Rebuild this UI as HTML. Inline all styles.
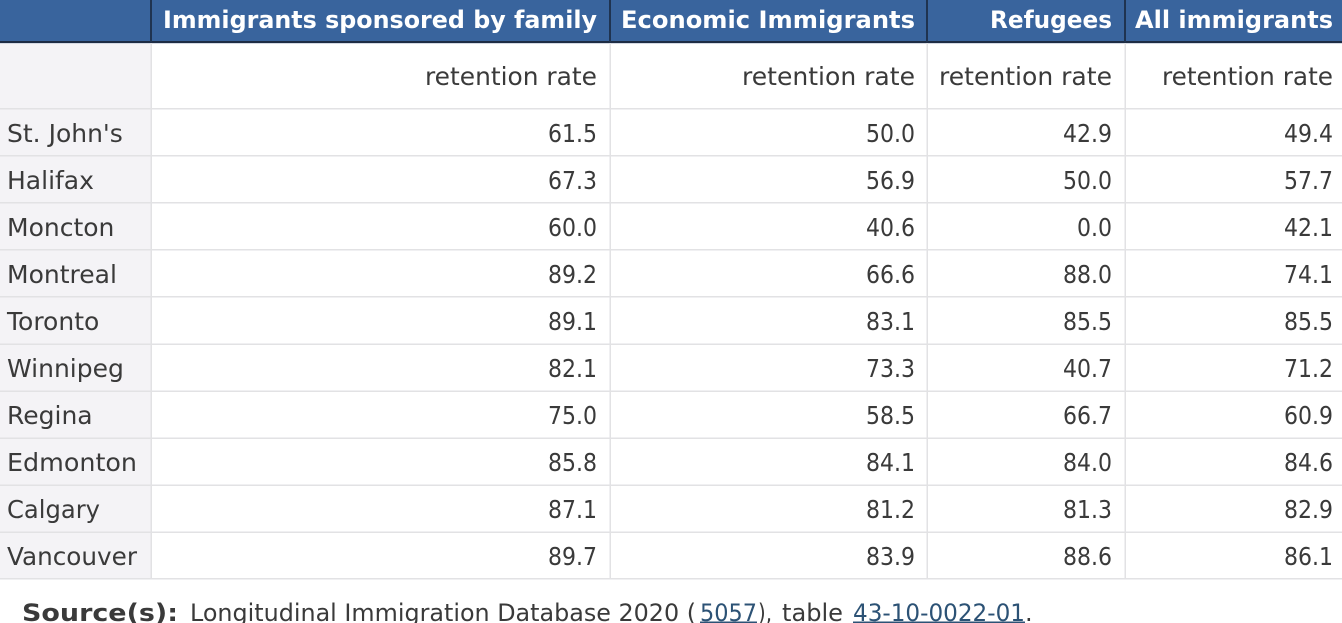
<!DOCTYPE html>
<html>
<head>
<meta charset="utf-8">
<style>
html,body{margin:0;padding:0;background:#fff;}
svg{display:block;}
text{font-family:"DejaVu Sans","Liberation Sans",sans-serif;}
.h{font-weight:bold;fill:#ffffff;font-size:24px;}
.t{fill:#3a3a3a;font-size:25px;}
.n{fill:#3a3a3a;font-size:25px;text-anchor:end;}
.l{fill:#2c5275;font-size:24px;}
.s{fill:#3a3a3a;font-size:24px;}
</style>
</head>
<body>
<svg width="1342" height="623" viewBox="0 0 1342 623" xmlns="http://www.w3.org/2000/svg">
  <rect x="0" y="0" width="1342" height="623" fill="#ffffff"/>
  <!-- header -->
  <rect x="0" y="0" width="1342" height="41" fill="#39649d"/>
  <rect x="0" y="41" width="1342" height="2" fill="#1d2c44"/>
  <rect x="0" y="43" width="1342" height="1" fill="#d4d9e3"/>
  <g fill="#1f3350">
    <rect x="150" y="0" width="2" height="42"/>
    <rect x="609" y="0" width="2" height="42"/>
    <rect x="926" y="0" width="2" height="42"/>
    <rect x="1124" y="0" width="2" height="42"/>
  </g>
  <!-- first column bg -->
  <rect x="0" y="44" width="151" height="535" fill="#f4f3f6"/>
  <!-- horizontal lines -->
  <g fill="#e2e2e4">
    <rect x="0" y="108" width="1342" height="1.5"/>
    <rect x="0" y="155" width="1342" height="1.5"/>
    <rect x="0" y="202" width="1342" height="1.5"/>
    <rect x="0" y="249" width="1342" height="1.5"/>
    <rect x="0" y="296" width="1342" height="1.5"/>
    <rect x="0" y="343.5" width="1342" height="1.5"/>
    <rect x="0" y="390.5" width="1342" height="1.5"/>
    <rect x="0" y="437.5" width="1342" height="1.5"/>
    <rect x="0" y="484.5" width="1342" height="1.5"/>
    <rect x="0" y="531.5" width="1342" height="1.5"/>
    <rect x="0" y="578" width="1342" height="1.5"/>
  </g>
  <!-- vertical lines -->
  <g fill="#e2e2e4">
    <rect x="150.5" y="43" width="1.5" height="536"/>
    <rect x="609.5" y="43" width="1.5" height="536"/>
    <rect x="926.5" y="43" width="1.5" height="536"/>
    <rect x="1124.5" y="43" width="1.5" height="536"/>
  </g>
  <!-- header text -->
  <text class="h" x="163" y="28" textLength="434" lengthAdjust="spacingAndGlyphs">Immigrants sponsored by family</text>
  <text class="h" x="621" y="28" textLength="294" lengthAdjust="spacingAndGlyphs">Economic Immigrants</text>
  <text class="h" x="990" y="28" textLength="122" lengthAdjust="spacingAndGlyphs">Refugees</text>
  <text class="h" x="1135" y="28" textLength="198" lengthAdjust="spacingAndGlyphs">All immigrants</text>
  <!-- subheader -->
  <text class="t" x="425" y="85" textLength="172" lengthAdjust="spacingAndGlyphs">retention rate</text>
  <text class="t" x="742" y="85" textLength="173" lengthAdjust="spacingAndGlyphs">retention rate</text>
  <text class="t" x="939" y="85" textLength="173" lengthAdjust="spacingAndGlyphs">retention rate</text>
  <text class="t" x="1162" y="85" textLength="171" lengthAdjust="spacingAndGlyphs">retention rate</text>
  <!-- rows -->
  <g>
    <text class="t" x="7" y="142">St. John's</text>
    <text class="t" x="7" y="189">Halifax</text>
    <text class="t" x="7" y="236">Moncton</text>
    <text class="t" x="7" y="283">Montreal</text>
    <text class="t" x="7" y="330">Toronto</text>
    <text class="t" x="7" y="377">Winnipeg</text>
    <text class="t" x="7" y="424">Regina</text>
    <text class="t" x="7" y="471" textLength="130" lengthAdjust="spacingAndGlyphs">Edmonton</text>
    <text class="t" x="7" y="518" textLength="93" lengthAdjust="spacingAndGlyphs">Calgary</text>
    <text class="t" x="7" y="565" textLength="130" lengthAdjust="spacingAndGlyphs">Vancouver</text>
  </g>
  <!-- col 2 -->
  <g>
    <text class="n" x="597" y="142" textLength="49" lengthAdjust="spacingAndGlyphs">61.5</text>
    <text class="n" x="597" y="189" textLength="49" lengthAdjust="spacingAndGlyphs">67.3</text>
    <text class="n" x="597" y="236" textLength="49" lengthAdjust="spacingAndGlyphs">60.0</text>
    <text class="n" x="597" y="283" textLength="49" lengthAdjust="spacingAndGlyphs">89.2</text>
    <text class="n" x="597" y="330" textLength="49" lengthAdjust="spacingAndGlyphs">89.1</text>
    <text class="n" x="597" y="377" textLength="49" lengthAdjust="spacingAndGlyphs">82.1</text>
    <text class="n" x="597" y="424" textLength="49" lengthAdjust="spacingAndGlyphs">75.0</text>
    <text class="n" x="597" y="471" textLength="49" lengthAdjust="spacingAndGlyphs">85.8</text>
    <text class="n" x="597" y="518" textLength="49" lengthAdjust="spacingAndGlyphs">87.1</text>
    <text class="n" x="597" y="565" textLength="49" lengthAdjust="spacingAndGlyphs">89.7</text>
  </g>
  <!-- col 3 -->
  <g>
    <text class="n" x="915" y="142" textLength="49" lengthAdjust="spacingAndGlyphs">50.0</text>
    <text class="n" x="915" y="189" textLength="49" lengthAdjust="spacingAndGlyphs">56.9</text>
    <text class="n" x="915" y="236" textLength="49" lengthAdjust="spacingAndGlyphs">40.6</text>
    <text class="n" x="915" y="283" textLength="49" lengthAdjust="spacingAndGlyphs">66.6</text>
    <text class="n" x="915" y="330" textLength="49" lengthAdjust="spacingAndGlyphs">83.1</text>
    <text class="n" x="915" y="377" textLength="49" lengthAdjust="spacingAndGlyphs">73.3</text>
    <text class="n" x="915" y="424" textLength="49" lengthAdjust="spacingAndGlyphs">58.5</text>
    <text class="n" x="915" y="471" textLength="49" lengthAdjust="spacingAndGlyphs">84.1</text>
    <text class="n" x="915" y="518" textLength="49" lengthAdjust="spacingAndGlyphs">81.2</text>
    <text class="n" x="915" y="565" textLength="49" lengthAdjust="spacingAndGlyphs">83.9</text>
  </g>
  <!-- col 4 -->
  <g>
    <text class="n" x="1112" y="142" textLength="49" lengthAdjust="spacingAndGlyphs">42.9</text>
    <text class="n" x="1112" y="189" textLength="49" lengthAdjust="spacingAndGlyphs">50.0</text>
    <text class="n" x="1112" y="236" textLength="35" lengthAdjust="spacingAndGlyphs">0.0</text>
    <text class="n" x="1112" y="283" textLength="49" lengthAdjust="spacingAndGlyphs">88.0</text>
    <text class="n" x="1112" y="330" textLength="49" lengthAdjust="spacingAndGlyphs">85.5</text>
    <text class="n" x="1112" y="377" textLength="49" lengthAdjust="spacingAndGlyphs">40.7</text>
    <text class="n" x="1112" y="424" textLength="49" lengthAdjust="spacingAndGlyphs">66.7</text>
    <text class="n" x="1112" y="471" textLength="49" lengthAdjust="spacingAndGlyphs">84.0</text>
    <text class="n" x="1112" y="518" textLength="49" lengthAdjust="spacingAndGlyphs">81.3</text>
    <text class="n" x="1112" y="565" textLength="49" lengthAdjust="spacingAndGlyphs">88.6</text>
  </g>
  <!-- col 5 -->
  <g>
    <text class="n" x="1333" y="142" textLength="49" lengthAdjust="spacingAndGlyphs">49.4</text>
    <text class="n" x="1333" y="189" textLength="49" lengthAdjust="spacingAndGlyphs">57.7</text>
    <text class="n" x="1333" y="236" textLength="49" lengthAdjust="spacingAndGlyphs">42.1</text>
    <text class="n" x="1333" y="283" textLength="49" lengthAdjust="spacingAndGlyphs">74.1</text>
    <text class="n" x="1333" y="330" textLength="49" lengthAdjust="spacingAndGlyphs">85.5</text>
    <text class="n" x="1333" y="377" textLength="49" lengthAdjust="spacingAndGlyphs">71.2</text>
    <text class="n" x="1333" y="424" textLength="49" lengthAdjust="spacingAndGlyphs">60.9</text>
    <text class="n" x="1333" y="471" textLength="49" lengthAdjust="spacingAndGlyphs">84.6</text>
    <text class="n" x="1333" y="518" textLength="49" lengthAdjust="spacingAndGlyphs">82.9</text>
    <text class="n" x="1333" y="565" textLength="49" lengthAdjust="spacingAndGlyphs">86.1</text>
  </g>
  <!-- source line -->
  <text class="s" x="22" y="621" style="font-weight:bold" textLength="156" lengthAdjust="spacingAndGlyphs">Source(s):</text>
  <text class="s" x="190" y="621" textLength="506" lengthAdjust="spacingAndGlyphs">Longitudinal Immigration Database 2020 (</text>
  <text class="l" x="700" y="621" textLength="57" lengthAdjust="spacingAndGlyphs">5057</text>
  <text class="s" x="758" y="621" textLength="14" lengthAdjust="spacingAndGlyphs">),</text>
  <text class="s" x="782" y="621" textLength="61" lengthAdjust="spacingAndGlyphs">table</text>
  <text class="l" x="853" y="621" textLength="172" lengthAdjust="spacingAndGlyphs">43-10-0022-01</text>
  <text class="s" x="1025" y="621">.</text>
  <rect x="700" y="621.5" width="57" height="1.5" fill="#2c5275"/>
  <rect x="853" y="621.5" width="172" height="1.5" fill="#2c5275"/>
</svg>
</body>
</html>
